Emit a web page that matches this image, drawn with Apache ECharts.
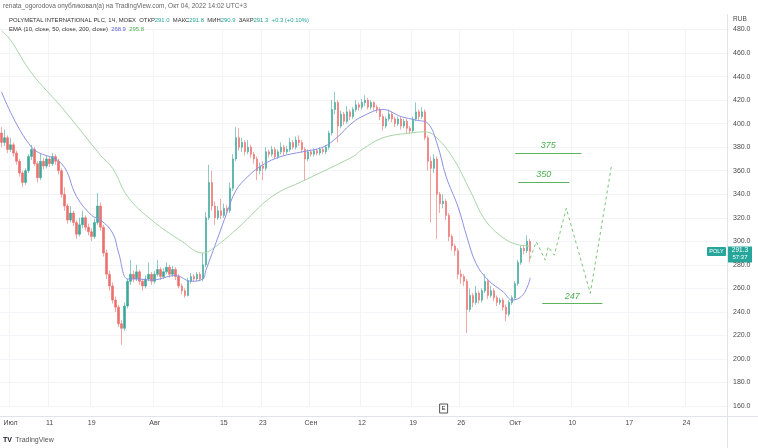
<!DOCTYPE html>
<html><head><meta charset="utf-8">
<script src="https://cdn.jsdelivr.net/npm/echarts@6/dist/echarts.min.js"></script>
<style>html,body{margin:0;padding:0;background:#fff}#c{width:758px;height:448px}</style>
</head><body><div id="c"></div>
<script>
// ---------- data ----------
const barCount = 242; // visible bar slots incl. future space
const labelIdx  = [3, 16, 30, 51, 74, 87, 103, 120, 137, 153, 171, 190, 209, 228];
const labelText = ['Июл','11','19','Авг','15','23','Сен','12','19','26','Окт','10','17','24'];
const yTicksMin = 160, yTicksMax = 480, yStep = 20;
// candles: [open, close, low, high]
const candles = [
[392,384,380,397],[384,388,381,395],[388,378,375,390],[378,382,376,388],[382,375,372,384],
[375,368,365,377],[368,358,355,370],[358,350,346,360],[350,360,348,362],[360,372,358,374],
[372,378,369,382],[378,366,364,380],[366,354,350,368],[354,368,352,375],[368,364,361,371],
[364,370,362,373],[370,366,363,372],[366,372,364,375],[372,368,365,374],[368,360,357,370],
[360,340,337,362],[340,330,326,346],[330,318,315,332],[318,324,316,330],[324,316,313,326],
[316,306,302,318],[306,314,304,320],[314,320,311,326],[320,312,309,322],[312,308,305,315],
[308,304,300,311],[304,316,302,319],[316,330,314,341],[330,312,309,333],[312,290,287,314],
[290,272,268,293],[272,262,258,275],[262,250,247,265],[250,244,240,253],[244,230,227,246],
[230,226,212,233],[226,245,224,248],[245,266,243,268],[266,272,263,284],[272,268,265,275],
[268,274,266,280],[274,266,263,276],[266,262,258,268],[262,268,260,271],[268,272,266,282],
[272,266,263,274],[266,272,264,275],[272,276,270,284],[276,270,267,278],[270,274,268,277],
[274,278,272,282],[278,272,269,280],[272,276,270,279],[276,270,267,278],[270,262,260,272],
[262,258,255,264],[258,254,252,260],[254,266,253,269],[266,270,264,273],[270,268,266,272],
[268,272,266,274],[272,268,266,274],[268,280,266,290],[280,320,278,325],[320,350,318,365],
[350,330,326,360],[330,320,314,334],[320,326,318,330],[326,322,319,336],[322,328,320,332],
[328,326,323,331],[326,345,324,350],[345,370,343,374],[370,388,368,397],[388,380,377,396],
[380,384,376,388],[384,376,373,386],[376,380,374,386],[380,374,371,382],[374,370,366,376],
[370,360,352,372],[360,364,357,367],[364,362,352,368],[362,376,360,380],[376,374,371,378],
[374,378,372,381],[378,372,370,380],[372,376,370,378],[376,380,374,384],[380,376,373,382],
[376,378,374,381],[378,384,376,388],[384,380,378,386],[380,386,378,389],[386,384,381,390],
[384,378,375,386],[378,370,352,380],[370,376,368,378],[376,374,372,378],[374,377,372,379],
[377,375,373,379],[375,378,373,380],[378,376,374,380],[376,380,374,382],[380,392,378,394],
[392,412,390,420],[412,418,408,427],[418,398,384,420],[398,408,396,411],[408,402,399,410],
[402,410,400,415],[410,406,403,412],[406,412,404,414],[412,416,410,420],[416,414,411,418],
[414,418,412,421],[418,420,415,424],[420,414,412,422],[414,418,412,420],[418,414,411,419],
[414,412,409,416],[412,406,403,414],[406,398,394,408],[398,404,396,406],[404,408,402,412],
[408,404,401,410],[404,400,397,406],[400,404,398,406],[404,398,395,406],[398,402,396,404],
[402,396,392,404],[396,394,391,398],[394,404,392,406],[404,410,402,418],[410,406,403,412],
[406,410,404,414],[410,388,386,412],[388,368,360,390],[368,362,316,372],[362,370,358,374],
[370,340,302,372],[340,332,324,342],[332,334,328,340],[334,322,318,336],[322,304,300,324],
[304,296,292,306],[296,292,288,298],[292,272,268,294],[272,270,264,276],[270,266,262,272],
[266,242,222,268],[242,254,240,260],[254,248,244,256],[248,256,246,262],[256,250,247,258],
[250,258,248,260],[258,266,256,272],[266,254,251,268],[254,258,252,262],[258,252,249,260],
[252,248,245,254],[248,250,246,252],[250,244,241,252],[244,238,232,246],[238,248,236,250],
[248,252,246,254],[252,264,250,266],[264,282,262,284],[282,294,280,296],[294,292,289,297],
[292,300,290,305],[300,291.3,282,302]
];
// EMA lines: [bar index, value]
const ema50 = [[0,427],[10,380],[20,366],[25,338],[30,322],[33,318],[37,307],[39,290],[42,268],[45,268],
[50,267],[58,271],[63,266],[67,268],[68,275],[72,303],[75,324],[78,343],[82,355],[87,365],[93,372],
[100,376],[107,380],[112,389],[116,399],[120,406],[127,412],[133,406],[138,403],[142,400],[145,383],
[148,355],[152,329],[155,303],[158,281],[162,267],[167,257],[170,250],[173,253],[175,261],[176,269]];
const ema200 = [[0,479],[3,471],[10,443],[20,414],[27,392],[33,373],[37,362],[42,338],[50,318],[60,300],
[67,290],[71,295],[79,312],[90,338],[101,352],[117,372],[120,378],[127,388],[136,392],[141,393],
[144,390],[150,372],[156,343],[161,318],[167,303],[172,297],[176,296]];
// forecast path (dashed): [bar index, price]
const forecast = [[176,285.5],[178,299.6],[181,284],[182,295.3],[184,288.2],[188,328.1],[196,255.8],[203,363.4]];
// target levels
const levels = [375, 350, 247];
const levelStart = [171, 172, 180];
const levelEnd = [193, 189, 200];
const lastClose = 291.3;
const markerIdx = 147;

// ---------- build ----------
const cats = Array.from({length: barCount}, (_, i) => 'b' + i);
const labelMap = {}; labelIdx.forEach((k, j) => labelMap[k] = labelText[j]);
const isLabel = (i) => labelMap[i] !== undefined;
const UP = '#3da89a', DOWN = '#ee6f6c', BADGE = '#26a69a', GRID = '#f3f4f7', TXT = '#4a4a4a';
const FONT = 'Liberation Sans, Arial, sans-serif';

const chart = echarts.init(document.getElementById('c'), null, {renderer: 'canvas'});
chart.setOption({
  animation: false,
  backgroundColor: '#ffffff',
  grid: {left: 0, right: 31, top: 29.5, bottom: 42, containLabel: false},
  xAxis: {
    type: 'category', data: cats, boundaryGap: true,
    axisLine: {show: false}, axisTick: {show: false},
    axisLabel: {interval: (i) => isLabel(i), formatter: (v, i) => labelMap[i] || '',
      color: TXT, fontSize: 7, fontFamily: FONT, margin: 14},
    splitLine: {show: true, interval: (i) => isLabel(i), lineStyle: {color: GRID, width: 1}}
  },
  yAxis: {
    type: 'value', position: 'right', min: yTicksMin, max: yTicksMax, interval: yStep,
    axisLine: {show: false}, axisTick: {show: false},
    axisLabel: {formatter: (v) => v.toFixed(1), color: TXT, fontSize: 7, fontFamily: FONT, margin: 6},
    splitLine: {lineStyle: {color: GRID, width: 1}}
  },
  series: [
    {type: 'candlestick', data: candles, barWidth: 2,
     itemStyle: {color: UP, color0: DOWN, borderColor: UP, borderColor0: DOWN, borderWidth: 0.6}},
    {type: 'line', data: ema200, smooth: 0.4, symbol: 'none', lineStyle: {color: '#a8d5a6', width: 1}},
    {type: 'line', data: ema50, smooth: 0.4, symbol: 'none', lineStyle: {color: '#8d92e0', width: 1}},
    {type: 'line', data: forecast.map((p, k) => k === forecast.length - 1
        ? {value: p, symbol: 'path://M0,10 L5,0 L10,10', symbolSize: [6, 4], symbolRotate: -9,
           itemStyle: {color: 'rgba(0,0,0,0)', borderColor: '#7cc47b', borderWidth: 1}}
        : {value: p, symbol: 'none'}),
     showSymbol: true, lineStyle: {color: '#7cc47b', width: 1, type: [3, 3]},
     markLine: {
       silent: true, symbol: ['none', 'none'], animation: false,
       lineStyle: {color: '#5fb35e', width: 1, type: 'solid'},
       label: {show: true, position: 'insideMiddleTop', formatter: '{b}', color: '#4caf50',
         fontStyle: 'italic', fontSize: 9, fontFamily: FONT, distance: 3},
       data: levels.map((v, k) => [{coord: [cats[levelStart[k]], v], name: String(v)},
                                   {coord: [cats[levelEnd[k]], v]}])
     }}
  ]
});

const yLast = chart.convertToPixel({yAxisIndex: 0}, lastClose);
const xMark = chart.convertToPixel({xAxisIndex: 0}, cats[markerIdx]);
const F2 = '5.9px ' + FONT;
chart.setOption({
  graphic: [
    {type: 'text', left: 3, top: 3, style: {text: 'renata_ogorodova опубликовал(а) на TradingView.com, Окт 04, 2022 14:02 UTC+3',
      fill: '#666', font: '6.5px ' + FONT}},
    {type: 'text', left: 9, top: 17.5, style: {
      text: '{d|POLYMETAL INTERNATIONAL PLC, 1Ч, MOEX  ОТКР}{g|291.0}{d|  МАКС}{g|291.8}{d|  МИН}{g|290.9}{d|  ЗАКР}{g|291.3}{g|  +0.3 (+0.10%)}',
      rich: {d: {fill: '#333', font: F2}, g: {fill: '#26a69a', font: F2}}}},
    {type: 'text', left: 9, top: 26, style: {
      text: '{d|EMA (10, close, 50, close, 200, close)  }{b|268.9}{d|  }{g|295.8}',
      rich: {d: {fill: '#333', font: F2}, b: {fill: '#5b63d8', font: F2}, g: {fill: '#4caf50', font: F2}}}},
    {type: 'text', left: 733, top: 16, style: {text: 'RUB', fill: TXT, font: '6.5px ' + FONT}},
    // pane frame
    {type: 'line', shape: {x1: 727.5, y1: 14, x2: 727.5, y2: 448}, style: {stroke: '#e0e3eb', lineWidth: 1}},
    {type: 'line', shape: {x1: 0, y1: 416.5, x2: 758, y2: 416.5}, style: {stroke: '#e0e3eb', lineWidth: 1}},
    // last price labels
    {type: 'rect', shape: {x: 707, y: yLast - 4.5, width: 19, height: 9, r: 1}, style: {fill: BADGE}},
    {type: 'text', x: 716.5, y: yLast, style: {text: 'POLY', fill: '#fff', font: '5.5px ' + FONT, align: 'center', verticalAlign: 'middle'}},
    {type: 'rect', shape: {x: 728, y: yLast - 5, width: 24, height: 16}, style: {fill: BADGE}},
    {type: 'text', x: 740, y: yLast - 1, style: {text: '291.3', fill: '#fff', font: '6.5px ' + FONT, align: 'center', verticalAlign: 'middle'}},
    {type: 'text', x: 740, y: yLast + 6, style: {text: '57:37', fill: '#fff', font: '6px ' + FONT, align: 'center', verticalAlign: 'middle'}},
    // event marker
    {type: 'rect', shape: {x: xMark - 3.5, y: 404, width: 8, height: 9}, style: {fill: '#fff', stroke: '#555', lineWidth: 1}},
    {type: 'text', x: xMark + 0.5, y: 408.5, style: {text: 'E', fill: '#333', font: '6px ' + FONT, align: 'center', verticalAlign: 'middle'}},
    // logo
    {type: 'text', left: 3, top: 434, style: {text: '{l|TV} {t|TradingView}',
      rich: {l: {fill: '#131722', font: 'bold 7px ' + FONT}, t: {fill: '#555', font: '7px ' + FONT}}}}
  ]
});
</script></body></html>
